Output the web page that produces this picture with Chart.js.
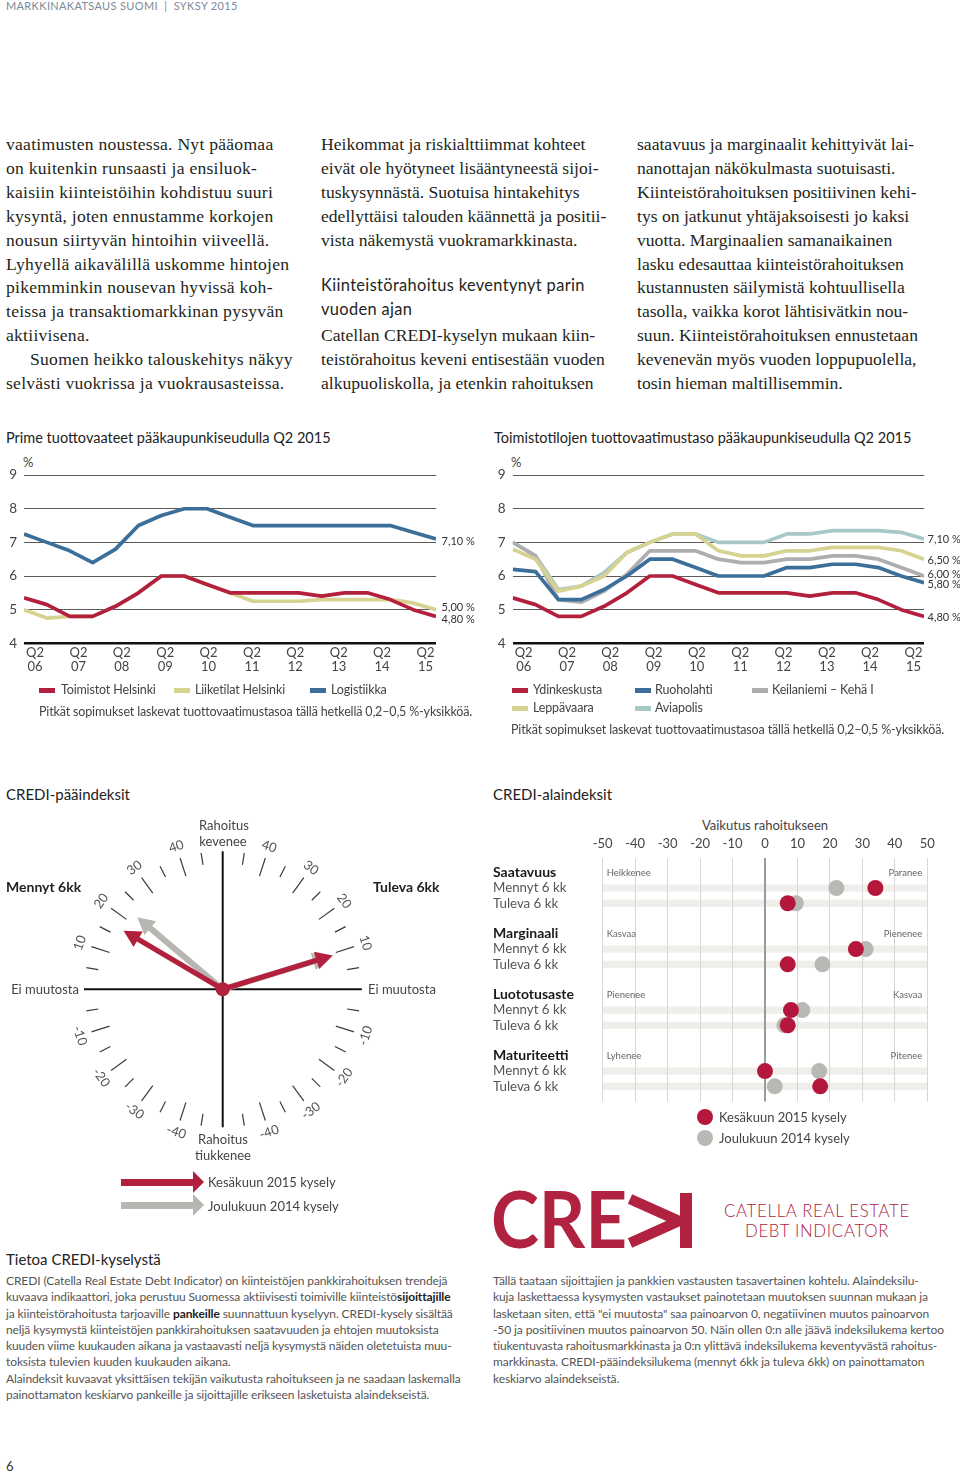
<!DOCTYPE html>
<html><head><meta charset="utf-8">
<script src="https://cdn.jsdelivr.net/npm/chart.js"></script>
<style>
body{margin:0;background:#fff;}
#page{position:relative;width:960px;height:1473px;overflow:hidden;font-family:Lato,sans-serif;color:#333;background:#fff;}
.a{position:absolute;white-space:nowrap;}
.serif{font-family:"Liberation Serif",serif;font-size:17.6px;line-height:23.9px;color:#231f20;}
.h2{font-family:Lato,sans-serif;font-size:16.4px;letter-spacing:0.35px;line-height:24px;color:#231f20;}
.title{font-size:14.5px;line-height:18px;color:#222;transform:translateY(-9px);}
.lg{font-size:12.5px;line-height:16px;color:#444;letter-spacing:-0.15px;transform:translateY(-8px);}
.sw{position:absolute;height:5px;width:16px;}
.small{font-size:12px;line-height:16.3px;color:#555;letter-spacing:-0.1px;}
.lbl{font-size:13px;line-height:16px;color:#444;transform:translateY(-8px);}
canvas{position:absolute;}
</style></head>
<body><div id="page">

<div class="a" style="left:6px;top:-1px;font-size:11px;letter-spacing:0.35px;color:#7b8a99;">MARKKINAKATSAUS SUOMI &nbsp;|&nbsp; SYKSY 2015</div>

<div class="a serif" style="left:6px;top:133px;letter-spacing:0.25px;">vaatimusten noustessa. Nyt pääomaa<br>on kuitenkin runsaasti ja ensiluok-<br>kaisiin kiinteistöihin kohdistuu suuri<br>kysyntä, joten ennustamme korkojen<br>nousun siirtyvän hintoihin viiveellä.<br>Lyhyellä aikavälillä uskomme hintojen<br>pikemminkin nousevan hyvissä koh-<br>teissa ja transaktiomarkkinan pysyvän<br>aktiivisena.<br><span style="padding-left:24px"></span>Suomen heikko talouskehitys näkyy<br>selvästi vuokrissa ja vuokrausasteissa.</div>

<div class="a serif" style="left:321px;top:133px;">Heikommat ja riskialttiimmat kohteet<br>eivät ole hyötyneet lisääntyneestä sijoi-<br>tuskysynnästä. Suotuisa hintakehitys<br>edellyttäisi talouden käännettä ja positii-<br>vista näkemystä vuokramarkkinasta.</div>
<div class="a h2" style="left:321px;top:273px;">Kiinteistörahoitus keventynyt parin<br>vuoden ajan</div>
<div class="a serif" style="left:321px;top:324px;">Catellan CREDI-kyselyn mukaan kiin-<br>teistörahoitus keveni entisestään vuoden<br>alkupuoliskolla, ja etenkin rahoituksen</div>

<div class="a serif" style="left:637px;top:133px;">saatavuus ja marginaalit kehittyivät lai-<br>nanottajan näkökulmasta suotuisasti.<br>Kiinteistörahoituksen positiivinen kehi-<br>tys on jatkunut yhtäjaksoisesti jo kaksi<br>vuotta. Marginaalien samanaikainen<br>lasku edesauttaa kiinteistörahoituksen<br>kustannusten säilymistä kohtuullisella<br>tasolla, vaikka korot lähtisivätkin nou-<br>suun. Kiinteistörahoituksen ennustetaan<br>kevenevän myös vuoden loppupuolella,<br>tosin hieman maltillisemmin.</div>

<!-- line charts -->
<div class="a title" style="left:6px;top:438px;">Prime tuottovaateet pääkaupunkiseudulla Q2 2015</div>
<div class="a lbl" style="left:23px;top:462px;">%</div>
<canvas id="prime" width="480" height="230" style="left:0;top:460px;"></canvas>
<div class="sw" style="left:39px;top:688px;background:#b3203e"></div><div class="a lg" style="left:61px;top:690px;">Toimistot Helsinki</div>
<div class="sw" style="left:174px;top:688px;background:#d6d391"></div><div class="a lg" style="left:195px;top:690px;">Liiketilat Helsinki</div>
<div class="sw" style="left:310px;top:688px;background:#3b6f99"></div><div class="a lg" style="left:331px;top:690px;">Logistiikka</div>
<div class="a lg" style="left:39px;top:712px;">Pitkät sopimukset laskevat tuottovaatimustasoa tällä hetkellä 0,2–0,5 %-yksikköä.</div>

<div class="a title" style="left:494px;top:438px;">Toimistotilojen tuottovaatimustaso pääkaupunkiseudulla Q2 2015</div>
<div class="a lbl" style="left:511px;top:462px;">%</div>
<canvas id="offices" width="470" height="230" style="left:490px;top:460px;"></canvas>
<div class="sw" style="left:512px;top:688px;background:#b3203e"></div><div class="a lg" style="left:533px;top:690px;">Ydinkeskusta</div>
<div class="sw" style="left:635px;top:688px;background:#3b6f99"></div><div class="a lg" style="left:655px;top:690px;">Ruoholahti</div>
<div class="sw" style="left:752px;top:688px;background:#aeaeb1"></div><div class="a lg" style="left:772px;top:690px;">Keilaniemi – Kehä I</div>
<div class="sw" style="left:512px;top:706px;background:#d6d391"></div><div class="a lg" style="left:533px;top:708px;">Leppävaara</div>
<div class="sw" style="left:635px;top:706px;background:#a8c8c8"></div><div class="a lg" style="left:655px;top:708px;">Aviapolis</div>
<div class="a lg" style="left:511px;top:730px;">Pitkät sopimukset laskevat tuottovaatimustasoa tällä hetkellä 0,2–0,5 %-yksikköä.</div>

<!-- gauge -->
<div class="a title" style="left:6px;top:794px;font-size:15px;">CREDI-pääindeksit</div>
<canvas id="gauge" width="480" height="420" style="left:0;top:810px;"></canvas>
<div class="a lbl" style="left:6px;top:887px;font-weight:700;font-size:14px;color:#222;">Mennyt 6kk</div>
<div class="a lbl" style="left:373px;top:887px;font-weight:700;font-size:14px;color:#222;">Tuleva 6kk</div>
<div class="a lbl" style="left:199px;top:825px;width:48px;text-align:center;line-height:16.3px;transform:translateY(-8px);">Rahoitus<br>kevenee</div>
<div class="a lbl" style="left:193px;top:1139px;width:60px;text-align:center;line-height:16px;transform:translateY(-8px);">Rahoitus<br>tiukkenee</div>
<div class="a lbl" style="left:0;width:79px;text-align:right;top:989px;">Ei muutosta</div>
<div class="a lbl" style="left:368px;top:989px;">Ei muutosta</div>
<div class="a" style="left:121px;top:1179px;width:72px;height:7px;background:#b3203e"></div>
<div class="a" style="left:193px;top:1171px;width:0;height:0;border-left:11px solid #b3203e;border-top:11px solid transparent;border-bottom:11px solid transparent;"></div>
<div class="a lbl" style="left:208px;top:1182px;">Kesäkuun 2015 kysely</div>
<div class="a" style="left:121px;top:1202px;width:72px;height:7px;background:#b8b6b2"></div>
<div class="a" style="left:193px;top:1194px;width:0;height:0;border-left:11px solid #b8b6b2;border-top:11px solid transparent;border-bottom:11px solid transparent;"></div>
<div class="a lbl" style="left:208px;top:1206px;">Joulukuun 2014 kysely</div>

<!-- sub indices -->
<div class="a title" style="left:493px;top:794px;font-size:15px;">CREDI-alaindeksit</div>
<div class="a lbl" style="left:665px;width:200px;text-align:center;top:825px;">Vaikutus rahoitukseen</div>
<canvas id="sub" width="470" height="300" style="left:490px;top:810px;"></canvas>
<div class="a" style="left:697px;top:1109px;width:16px;height:16px;border-radius:50%;background:#b5163b"></div>
<div class="a lbl" style="left:719px;top:1117px;">Kesäkuun 2015 kysely</div>
<div class="a" style="left:697px;top:1130px;width:16px;height:16px;border-radius:50%;background:#bab8b4"></div>
<div class="a lbl" style="left:719px;top:1138px;">Joulukuun 2014 kysely</div>

<!-- logo -->
<svg class="a" style="left:493px;top:1190px;" width="202" height="62" viewBox="0 0 202 62">
  <text x="-2" y="58" font-family="Lato" font-weight="700" font-size="78" fill="#b0223f" textLength="136" lengthAdjust="spacingAndGlyphs">CRE</text>
  <polyline points="137,9 186,31 137,53" fill="none" stroke="#b0223f" stroke-width="10.5" stroke-linejoin="miter"/>
  <rect x="187" y="3" width="12" height="55" fill="#b0223f"/>
</svg>
<div class="a" style="left:722px;top:1201px;font-size:16.8px;font-weight:300;letter-spacing:0.7px;color:#b0223f;line-height:20px;text-align:center;width:190px;">CATELLA REAL ESTATE<br>DEBT INDICATOR</div>

<div class="a title" style="left:6px;top:1259px;font-size:15px;">Tietoa CREDI-kyselystä</div>
<div class="a small" style="left:6px;top:1273px;">CREDI (Catella Real Estate Debt Indicator) on kiinteistöjen pankkirahoituksen trendejä<br>kuvaava indikaattori, joka perustuu Suomessa aktiivisesti toimiville kiinteistö<b style="color:#222">sijoittajille</b><br>ja kiinteistörahoitusta tarjoaville <b style="color:#222">pankeille</b> suunnattuun kyselyyn. CREDI-kysely sisältää<br>neljä kysymystä kiinteistöjen pankkirahoituksen saatavuuden ja ehtojen muutoksista<br>kuuden viime kuukauden aikana ja vastaavasti neljä kysymystä näiden oletetuista muu-<br>toksista tulevien kuuden kuukauden aikana.<br>Alaindeksit kuvaavat yksittäisen tekijän vaikutusta rahoitukseen ja ne saadaan laskemalla<br>painottamaton keskiarvo pankeille ja sijoittajille erikseen lasketuista alaindekseistä.</div>
<div class="a small" style="left:493px;top:1273px;">Tällä taataan sijoittajien ja pankkien vastausten tasavertainen kohtelu. Alaindeksilu-<br>kuja laskettaessa kysymysten vastaukset painotetaan muutoksen suunnan mukaan ja<br>lasketaan siten, että "ei muutosta" saa painoarvon 0, negatiivinen muutos painoarvon<br>-50 ja positiivinen muutos painoarvon 50. Näin ollen 0:n alle jäävä indeksilukema kertoo<br>tiukentuvasta rahoitusmarkkinasta ja 0:n ylittävä indeksilukema keventyvästä rahoitus-<br>markkinasta. CREDI-pääindeksilukema (mennyt 6kk ja tuleva 6kk) on painottamaton<br>keskiarvo alaindekseistä.</div>
<div class="a" style="left:6px;top:1458px;font-size:13px;color:#333;">6</div>

</div>
<script>
// ---------- DATA ----------
const xTickLabels = ['Q2 06','Q2 07','Q2 08','Q2 09','Q2 10','Q2 11','Q2 12','Q2 13','Q2 14','Q2 15'];
const xTickPos = [0.48, 2.38, 4.27, 6.17, 8.06, 9.96, 11.85, 13.75, 15.64, 17.54];
const yTicks = [4,5,6,7,8,9];

const toimistotHelsinki = [5.35,5.15,4.8,4.8,5.1,5.5,6.0,6.0,5.75,5.5,5.5,5.5,5.5,5.4,5.5,5.5,5.3,5.0,4.8];
const liiketilatHelsinki = [5.0,4.75,4.8,4.8,5.1,5.5,6.0,6.0,5.75,5.5,5.25,5.25,5.25,5.3,5.3,5.3,5.3,5.2,5.0];
const logistiikka = [7.25,7.0,6.75,6.4,6.8,7.5,7.8,8.0,8.0,7.75,7.5,7.5,7.5,7.5,7.5,7.5,7.5,7.3,7.1];
const primeEndLabels = ['7,10 %','5,00 %','4,80 %'];
const primeEndLabelAt = [7.02, 5.08, 4.72];

const ydinkeskusta = [5.35,5.15,4.8,4.8,5.1,5.5,6.0,6.0,5.75,5.5,5.5,5.5,5.5,5.4,5.5,5.5,5.3,5.0,4.8];
const ruoholahti = [6.2,6.13,5.3,5.3,5.6,6.0,6.5,6.5,6.25,6.0,6.0,6.0,6.25,6.25,6.35,6.35,6.25,6.0,5.8];
const keilaniemi = [7.0,6.6,5.3,5.22,5.55,6.05,6.75,6.75,6.75,6.5,6.4,6.4,6.5,6.5,6.6,6.6,6.5,6.25,6.0];
const leppavaara = [6.8,6.5,5.55,5.7,6.0,6.7,7.0,7.25,7.25,6.75,6.6,6.6,6.75,6.75,6.85,6.85,6.85,6.75,6.5];
const aviapolis = [7.0,6.6,5.6,5.7,6.1,6.7,7.0,7.25,7.25,7.0,7.0,7.0,7.25,7.25,7.35,7.35,7.35,7.3,7.1];
const officeEndLabels = ['7,10 %','6,50 %','6,00 %','5,80 %','4,80 %'];
const officeEndLabelAt = [7.08, 6.47, 6.05, 5.75, 4.76];

const gaugeSides = ['Mennyt 6kk','Tuleva 6kk'];
const gaugeJune2015 = [17, 9.5];
const gaugeDec2014 = [22.3, 9.5];
const gaugeTickValues = [5,10,15,20,25,30,35,40,45,-5,-10,-15,-20,-25,-30,-35,-40,-45];
const gaugeLabelValues = [10,20,30,40,-10,-20,-30,-40];

const subGroups = ['Saatavuus','Marginaali','Luototusaste','Maturiteetti'];
const subRows = ['Mennyt 6 kk','Tuleva 6 kk'];
const subLeftNotes = ['Heikkenee','Kasvaa','Pienenee','Lyhenee'];
const subRightNotes = ['Paranee','Pienenee','Kasvaa','Pitenee'];
const subJune2015 = [34, 7, 28, 7, 8, 7, 0, 17];
const subDec2014 = [22, 9.5, 31, 17.7, 11.5, 6, 16.7, 3];
const subXTicks = [-50,-40,-30,-20,-10,0,10,20,30,40,50];

// ---------- STYLE ----------
const C = {red:'#b3203e', blue:'#3b6f99', olive:'#d6d391', grey:'#aeaeb1', teal:'#a8c8c8'};
const FONT = 'Lato, sans-serif';

const endLabelPlugin = {
  id:'endLabels',
  afterDraw(chart, args, o){
    const {ctx, chartArea, scales:{y}} = chart;
    ctx.save();
    ctx.font = '11px ' + FONT; ctx.fillStyle = '#333'; ctx.textBaseline = 'middle'; ctx.textAlign = 'left';
    o.texts.forEach((t,i)=> ctx.fillText(t, chartArea.right + o.dx, y.getPixelForValue(o.at[i])));
    ctx.restore();
  }
};

function lineDs(label, data, color){
  return {label, data: data.map((v,i)=>({x:i,y:v})), borderColor:color, backgroundColor:color,
    borderWidth:3.7, pointRadius:0, tension:0, borderJoinStyle:'round', fill:false};
}

function lineChart(id, datasets, yWidth, pad, texts, at, dx){
  return new Chart(document.getElementById(id), {
    type:'line',
    data:{datasets},
    options:{
      responsive:false, animation:false,
      layout:{padding:pad},
      plugins:{legend:{display:false}, tooltip:{enabled:false}, endLabels:{texts, at, dx}},
      scales:{
        x:{type:'linear', min:0, max:toimistotHelsinki.length-1,
           afterBuildTicks:ax=>{ax.ticks = xTickPos.map(v=>({value:v}));},
           afterFit:s=>{s.height = 46.7;},
           grid:{display:false, drawTicks:false}, border:{display:false},
           ticks:{autoSkip:false, maxRotation:0, padding:3, color:'#444', font:{family:FONT,size:13,lineHeight:1.03},
             callback:(v,i)=>xTickLabels[i].split(' ')}},
        y:{min:4, max:9,
           afterBuildTicks:ax=>{ax.ticks = yTicks.map(v=>({value:v}));},
           afterFit:s=>{s.width = yWidth;},
           border:{display:false},
           grid:{drawTicks:false, color:c=>c.tick && c.tick.value===4?'#111':'#5a5a5a', lineWidth:c=>c.tick && c.tick.value===4?2.6:1},
           ticks:{padding:7, color:'#444', font:{family:FONT,size:13.5}}}
      }
    },
    plugins:[endLabelPlugin]
  });
}

lineChart('prime', [
  lineDs('Toimistot Helsinki', toimistotHelsinki, C.red),
  lineDs('Logistiikka', logistiikka, C.blue),
  lineDs('Liiketilat Helsinki', liiketilatHelsinki, C.olive)
], 24, {top:13.3, right:44, left:0, bottom:0}, primeEndLabels, primeEndLabelAt, 5.5);

lineChart('offices', [
  lineDs('Ydinkeskusta', ydinkeskusta, C.red),
  lineDs('Ruoholahti', ruoholahti, C.blue),
  lineDs('Leppävaara', leppavaara, C.olive),
  lineDs('Keilaniemi – Kehä I', keilaniemi, C.grey),
  lineDs('Aviapolis', aviapolis, C.teal)
], 22.7, {top:13.3, right:36, left:0, bottom:0}, officeEndLabels, officeEndLabelAt, 3.5);

// ---------- GAUGE ----------
const RAD_PER_UNIT = 1.8*Math.PI/180;
const ARROW_R = 0.835, TICK_OUT = 1.0, TICK_LONG = 0.862, TICK_SHORT = 0.913, LABEL_R = 1.088;
const SIDE = [-1, 1];
function polar(v, side, r){ const a = v*RAD_PER_UNIT; return {x: side*r*Math.cos(a), y: r*Math.sin(a)}; }

const gaugePlugin = {
  id:'gauge',
  beforeDatasetsDraw(chart){
    const {ctx, scales:{x, y}} = chart;
    const P = p => [x.getPixelForValue(p.x), y.getPixelForValue(p.y)];
    ctx.save();
    ctx.strokeStyle = '#111'; ctx.lineWidth = 2;
    ctx.beginPath();
    let a = P({x:-1.005,y:0}), b = P({x:1.008,y:0});
    ctx.moveTo(a[0],a[1]); ctx.lineTo(b[0],b[1]);
    a = P({x:0,y:1.0}); b = P({x:0,y:-1.0});
    ctx.moveTo(a[0],a[1]); ctx.lineTo(b[0],b[1]);
    ctx.stroke();
    ctx.strokeStyle = '#3a3a3a'; ctx.lineWidth = 1.2;
    SIDE.forEach(s=>{
      gaugeTickValues.forEach(v=>{
        const inner = v%10===0 ? TICK_LONG : TICK_SHORT;
        const p1 = P(polar(v,s,inner)), p2 = P(polar(v,s,TICK_OUT));
        ctx.beginPath(); ctx.moveTo(p1[0],p1[1]); ctx.lineTo(p2[0],p2[1]); ctx.stroke();
      });
    });
    ctx.fillStyle = '#555'; ctx.font = '13px ' + FONT; ctx.textAlign = 'center'; ctx.textBaseline = 'middle';
    SIDE.forEach(s=>{
      gaugeLabelValues.forEach(v=>{
        const ang = v*RAD_PER_UNIT;
        const p = P(polar(v,s,LABEL_R));
        const rot = s*(ang>0 ? (Math.PI/2 - ang) : -(Math.PI/2 + ang));
        ctx.save(); ctx.translate(p[0],p[1]); ctx.rotate(rot); ctx.fillText(String(v),0,0); ctx.restore();
      });
    });
    ctx.restore();
  },
  afterDatasetsDraw(chart){
    const {ctx, scales:{x, y}} = chart;
    const cx = x.getPixelForValue(0), cy = y.getPixelForValue(0);
    ctx.save();
    for (let d = chart.data.datasets.length-1; d>=0; d--){
      const ds = chart.data.datasets[d];
      const meta = chart.getDatasetMeta(d);
      meta.data.forEach(el=>{
        const tx = el.x, ty = el.y;
        const L = Math.hypot(tx-cx, ty-cy), ux = (tx-cx)/L, uy = (ty-cy)/L, nx = -uy, ny = ux;
        const H = 17, W = 9;
        const bx = tx-ux*H, by = ty-uy*H;
        ctx.strokeStyle = ds.borderColor; ctx.fillStyle = ds.borderColor; ctx.lineWidth = ds.shaftWidth; ctx.lineCap='butt';
        ctx.beginPath(); ctx.moveTo(cx,cy); ctx.lineTo(bx+ux*2, by+uy*2); ctx.stroke();
        ctx.beginPath(); ctx.moveTo(tx,ty); ctx.lineTo(bx+nx*W, by+ny*W); ctx.lineTo(bx-nx*W, by-ny*W); ctx.closePath(); ctx.fill();
      });
    }
    ctx.fillStyle = C.red;
    ctx.beginPath(); ctx.arc(cx,cy,7,0,Math.PI*2); ctx.fill();
    ctx.restore();
  }
};

new Chart(document.getElementById('gauge'), {
  type:'scatter',
  data:{datasets:[
    {label:'Kesäkuun 2015 kysely', data: gaugeJune2015.map((v,i)=>polar(v, SIDE[i], ARROW_R)), borderColor:'#b3203e', shaftWidth:5.2, pointRadius:0},
    {label:'Joulukuun 2014 kysely', data: gaugeDec2014.map((v,i)=>polar(v, SIDE[i], ARROW_R*0.97)), borderColor:'#b8b6b2', shaftWidth:6, pointRadius:0}
  ]},
  options:{
    responsive:false, animation:false,
    layout:{padding:{left:57.1, top:13.7, right:91.7, bottom:75.1}},
    plugins:{legend:{display:false}, tooltip:{enabled:false}},
    scales:{x:{type:'linear', display:false, min:-1.2, max:1.2}, y:{type:'linear', display:false, min:-1.2, max:1.2}}
  },
  plugins:[gaugePlugin]
});

// ---------- SUB INDICES ----------
const rowPos = [], rowLabels = [], rowIsHeader = [];
subGroups.forEach((g,gi)=>{
  rowPos.push(gi*4); rowLabels.push(g); rowIsHeader.push(true);
  subRows.forEach((r,ri)=>{ rowPos.push(gi*4+1+ri); rowLabels.push(r); rowIsHeader.push(false); });
});
const pointRows = [];
subGroups.forEach((g,gi)=> subRows.forEach((r,ri)=> pointRows.push(gi*4+1+ri)));

const subPlugin = {
  id:'subBands',
  beforeDraw(chart){
    const {ctx, scales:{x, y}} = chart;
    ctx.save();
    ctx.fillStyle = '#efeeea';
    const x0 = x.getPixelForValue(-50), x1 = x.getPixelForValue(50);
    pointRows.forEach(r=>{ const py = y.getPixelForValue(r); ctx.fillRect(x0, py-3.6, x1-x0, 7.2); });
    ctx.restore();
  },
  afterDraw(chart){
    const {ctx, scales:{x, y}} = chart;
    ctx.save();
    ctx.font = '9.5px ' + FONT; ctx.fillStyle = '#666'; ctx.textBaseline = 'middle';
    subGroups.forEach((g,gi)=>{
      const py = y.getPixelForValue(gi*4);
      ctx.textAlign = 'left'; ctx.fillText(subLeftNotes[gi], x.getPixelForValue(-50)+4, py);
      ctx.textAlign = 'right'; ctx.fillText(subRightNotes[gi], x.getPixelForValue(50)-5, py);
    });
    ctx.restore();
  }
};

new Chart(document.getElementById('sub'), {
  type:'scatter',
  data:{datasets:[
    {label:'Kesäkuun 2015 kysely', data: subJune2015.map((v,i)=>({x:v, y:pointRows[i]})), backgroundColor:'#b5163b', borderWidth:0, pointRadius:8},
    {label:'Joulukuun 2014 kysely', data: subDec2014.map((v,i)=>({x:v, y:pointRows[i]})), backgroundColor:'#bab8b4', borderWidth:0, pointRadius:8}
  ]},
  options:{
    responsive:false, animation:false,
    layout:{padding:{left:3, top:0, right:32.7, bottom:4.5}},
    plugins:{legend:{display:false}, tooltip:{enabled:false}},
    scales:{
      x:{type:'linear', position:'top', min:-50, max:50,
         afterBuildTicks:ax=>{ax.ticks = subXTicks.map(v=>({value:v}));},
         afterFit:s=>{s.height = 47.5;},
         border:{display:false},
         grid:{drawTicks:false, color:c=>c.tick && c.tick.value===0?'#9a9a9a':'#d8d7d4', lineWidth:c=>c.tick && c.tick.value===0?2:1},
         ticks:{autoSkip:false, padding:6, color:'#444', font:{family:FONT,size:13}}},
      y:{type:'linear', reverse:true, min:-1, max:15,
         afterBuildTicks:ax=>{ax.ticks = rowPos.map(v=>({value:v}));},
         afterFit:s=>{s.width = 109.7;},
         border:{display:false}, grid:{display:false},
         ticks:{autoSkip:false, crossAlign:'far', padding:0,
           color:c=>rowIsHeader[c.index]?'#1a1a1a':'#555',
           font:c=>rowIsHeader[c.index]?{family:FONT,size:14,weight:'bold'}:{family:FONT,size:13.3},
           callback:(v,i)=>rowLabels[i]}}
    }
  },
  plugins:[subPlugin]
});
</script>
</body></html>
